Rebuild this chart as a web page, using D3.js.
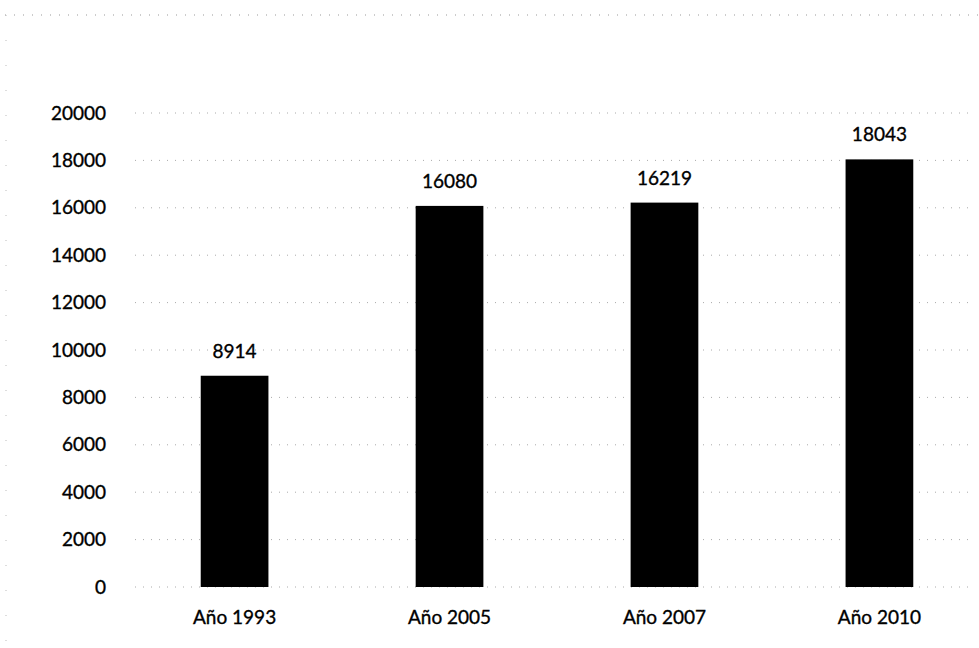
<!DOCTYPE html>
<html>
<head>
<meta charset="utf-8">
<script src="https://cdn.jsdelivr.net/npm/d3@7"></script>
<style>
  body { margin: 0; background: #fff; }
  text { font-family: Lato, "Open Sans", sans-serif; }
</style>
</head>
<body>
<svg id="chart"></svg>
<script>
const categories = ['Año 1993', 'Año 2005', 'Año 2007', 'Año 2010']
const values = [8914, 16080, 16219, 18043]
const yTicks = [0, 2000, 4000, 6000, 8000, 10000, 12000, 14000, 16000, 18000, 20000]

const width = 979
const height = 648
const marginTop = 113
const marginBottom = 61
const marginLeft = 127
const marginRight = -8
const fontSize = 19

const svg = d3.select('#chart')
    .attr('width', width)
    .attr('height', height)
    .attr('viewBox', [0, 0, width, height])

// faint dotted frame left over from the scan
svg.append('line')
    .attr('x1', 5).attr('x2', width).attr('y1', 15).attr('y2', 15)
    .attr('stroke', '#999').attr('stroke-dasharray', '1,8')
svg.append('line')
    .attr('x1', 6).attr('x2', 6).attr('y1', 15).attr('y2', height)
    .attr('stroke', '#bbb').attr('stroke-dasharray', '1,24')

const x = d3.scaleBand()
    .domain(categories)
    .range([marginLeft, width - marginRight])
    .paddingInner(0.685)
    .paddingOuter(0.343)

const y = d3.scaleLinear()
    .domain([0, 20000])
    .range([height - marginBottom, marginTop])

// gridlines
svg.append('g')
  .selectAll('line')
  .data(yTicks)
  .join('line')
    .attr('x1', marginLeft + 8)
    .attr('x2', 975)
    .attr('y1', d => y(d))
    .attr('y2', d => y(d))
    .attr('stroke', '#aaa')
    .attr('stroke-width', 1)
    .attr('stroke-dasharray', '1,7')

const styleText = g => g.selectAll('text')
    .attr('font-size', fontSize)
    .attr('fill', '#000')
    .attr('stroke', '#000')
    .attr('stroke-width', 0.35)
    .attr('font-family', 'Lato, "Open Sans", sans-serif')

// y axis
svg.append('g')
    .attr('transform', `translate(${marginLeft},0)`)
    .call(d3.axisLeft(y).tickValues(yTicks).tickSize(0).tickPadding(21).tickFormat(d3.format('d')))
    .call(g => g.select('.domain').remove())
    .call(styleText)

// x axis
svg.append('g')
    .attr('transform', `translate(0,${height - marginBottom})`)
    .call(d3.axisBottom(x).tickSize(0).tickPadding(24))
    .call(g => g.select('.domain').remove())
    .call(styleText)

// bars
svg.append('g')
  .selectAll('rect')
  .data(values)
  .join('rect')
    .attr('x', (d, i) => x(categories[i]))
    .attr('y', d => y(d))
    .attr('width', x.bandwidth())
    .attr('height', d => y(0) - y(d))
    .attr('fill', '#000')

// value labels
svg.append('g')
  .selectAll('text')
  .data(values)
  .join('text')
    .attr('x', (d, i) => x(categories[i]) + x.bandwidth() / 2)
    .attr('y', d => y(d) - 18)
    .attr('text-anchor', 'middle')
    .attr('font-size', fontSize)
    .attr('fill', '#000')
    .attr('stroke', '#000')
    .attr('stroke-width', 0.35)
    .text(d => d)
</script>
</body>
</html>
